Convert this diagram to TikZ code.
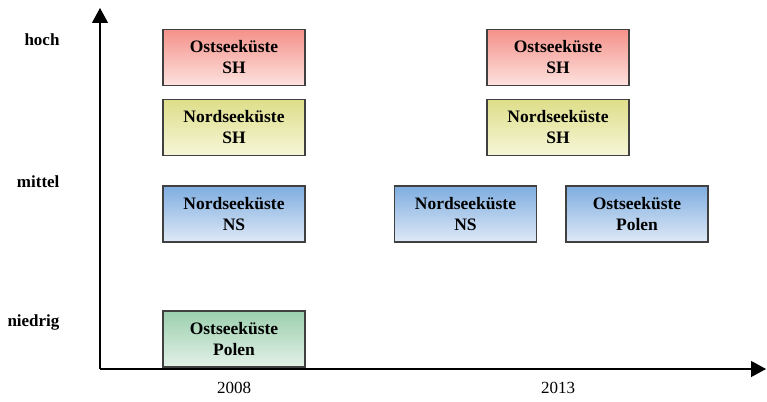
\documentclass[tikz,border=0pt]{standalone}
\usepackage{fontspec}
\setmainfont{Liberation Serif}
\usetikzlibrary{arrows.meta}
\definecolor{redtop}{HTML}{F4918A}
\definecolor{redbot}{HTML}{FDE2DE}
\definecolor{yeltop}{HTML}{DEDE8A}
\definecolor{yelbot}{HTML}{F6F6D8}
\definecolor{bluetop}{HTML}{7EADE0}
\definecolor{bluebot}{HTML}{DFE9F6}
\definecolor{greentop}{HTML}{9CCFAE}
\definecolor{greenbot}{HTML}{E2F1E7}
\tikzset{
    region/.style={draw=black!75, line width=1.3pt, minimum width=142pt, minimum height=56pt,
        align=center, font=\bfseries\fontsize{17.5}{21}\selectfont, inner sep=0pt},
    level/.style={anchor=east, font=\bfseries\fontsize{17}{20}\selectfont},
    year/.style={font=\fontsize{17}{20}\selectfont}
}
\begin{document}
\begin{tikzpicture}[x=1pt, y=-1pt]
            \useasboundingbox (0, 0) rectangle (767, 401);
            % Axes
            \coordinate (Origin) at (100, 369);
            \coordinate (YEnd) at (100, 8);
            \coordinate (XEnd) at (766, 369);
            \draw[line width=1.2pt, -{Triangle[length=15pt, width=16pt]}] (Origin) -- (YEnd);
            \draw[line width=1.2pt, -{Triangle[length=15pt, width=16pt]}] (Origin) -- (XEnd);

            % Labels
            \node[level] (Hoch) at (63, 40) {hoch};
            \node[level] (Mittel) at (63, 182) {mittel};
            \node[level] (Niedrig) at (63, 322) {niedrig};
            \node[year] (YearA) at (234, 388) {2008};
            \node[year] (YearB) at (558, 388) {2013};

            % Nodes 2008
            \node[region, top color=redtop, bottom color=redbot] (OstSHA) at (234, 57.5) {Ostseeküste\\SH};
            \node[region, top color=yeltop, bottom color=yelbot] (NordSHA) at (234, 127.5) {Nordseeküste\\SH};
            \node[region, top color=bluetop, bottom color=bluebot] (NordNSA) at (234, 214) {Nordseeküste\\NS};
            \node[region, top color=greentop, bottom color=greenbot] (OstPLA) at (234, 339) {Ostseeküste\\Polen};

            % Nodes 2013
            \node[region, top color=redtop, bottom color=redbot] (OstSHB) at (558, 57.5) {Ostseeküste\\SH};
            \node[region, top color=yeltop, bottom color=yelbot] (NordSHB) at (558, 127.5) {Nordseeküste\\SH};
            \node[region, top color=bluetop, bottom color=bluebot] (NordNSB) at (465.5, 214) {Nordseeküste\\NS};
            \node[region, top color=bluetop, bottom color=bluebot] (OstPLB) at (637, 214) {Ostseeküste\\Polen};
        \end{tikzpicture}
\end{document}
